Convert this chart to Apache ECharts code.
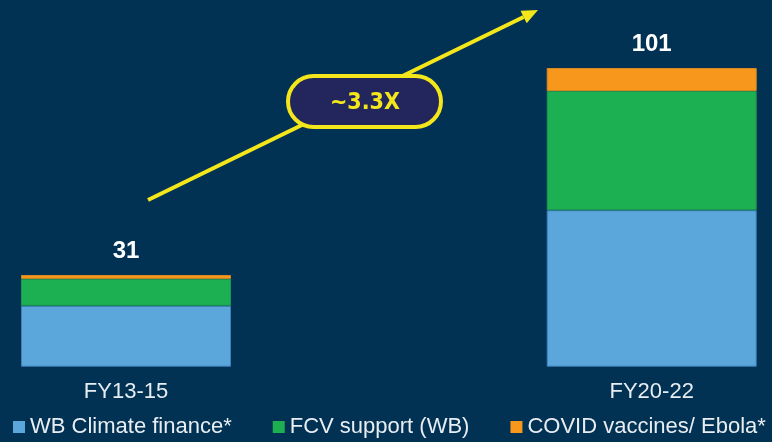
<!DOCTYPE html>
<html>
<head>
<meta charset="utf-8">
<script src="https://cdn.jsdelivr.net/npm/echarts@6/dist/echarts.min.js"></script>
<style>
  html, body { margin: 0; padding: 0; background: #013153; }
  #main { width: 772px; height: 442px; }
</style>
</head>
<body>
<div id="main"></div>
<script>
  // data (USD bn)
  var categories = ['FY13-15', 'FY20-22'];
  var climate = [20.6, 52.9];
  var fcv = [9.1, 40.3];
  var covid = [1.3, 7.8];
  var totals = [31, 101];
  var growthLabel = '~3.3X';

  var myChart = echarts.init(document.getElementById('main'));

  // arrow geometry (annotation only)
  var ax1 = 148, ay1 = 200, ax2 = 538, ay2 = 10;
  var ang = Math.atan2(ay2 - ay1, ax2 - ax1);
  var headLen = 16, headHalf = 7;
  var bx = ax2 - headLen * Math.cos(ang), by = ay2 - headLen * Math.sin(ang);
  var px = -Math.sin(ang), py = Math.cos(ang);

  var legendText = { color: '#e8edf2', fontSize: 22, fontFamily: 'Liberation Sans, Arial, sans-serif' };

  myChart.setOption({
    backgroundColor: '#013153',
    animation: false,
    grid: {
      left: 126,
      right: 120.3,
      top: 68,
      bottom: 75.3
    },
    legend: {
      left: 13,
      top: 416,
      padding: 0,
      itemWidth: 12,
      itemHeight: 12,
      itemGap: 41,
      icon: 'rect',
      itemStyle: { borderWidth: 0 },
      textStyle: legendText,
      data: ['WB Climate finance*', 'FCV support (WB)', 'COVID vaccines/ Ebola*']
    },
    xAxis: {
      type: 'category',
      data: categories,
      boundaryGap: false,
      axisLine: { show: false },
      axisTick: { show: false },
      axisLabel: {
        margin: 14,
        color: '#e8edf2',
        fontSize: 22,
        fontFamily: 'Liberation Sans, Arial, sans-serif'
      }
    },
    yAxis: {
      type: 'value',
      min: 0,
      max: 101,
      show: false,
      splitLine: { show: false }
    },
    series: [
      {
        name: 'WB Climate finance*',
        type: 'bar',
        stack: 'total',
        barWidth: 210,
        clip: false,
        data: climate,
        itemStyle: { color: '#5ba7dc', borderColor: '#3d7fb8', borderWidth: 1 }
      },
      {
        name: 'FCV support (WB)',
        type: 'bar',
        stack: 'total',
        barWidth: 210,
        clip: false,
        data: fcv,
        itemStyle: { color: '#1db053', borderColor: '#1b9650', borderWidth: 1 }
      },
      {
        name: 'COVID vaccines/ Ebola*',
        type: 'bar',
        stack: 'total',
        barWidth: 210,
        clip: false,
        data: covid,
        itemStyle: { color: '#f7981d', borderColor: '#d88a22', borderWidth: 1 },
        label: {
          show: true,
          position: 'top',
          distance: 12,
          color: '#ffffff',
          fontSize: 24,
          fontWeight: 'bold',
          fontFamily: 'Liberation Sans, Arial, sans-serif',
          formatter: function (p) { return totals[p.dataIndex]; }
        }
      }
    ],
    graphic: [
      {
        type: 'line',
        z: 10,
        shape: { x1: ax1, y1: ay1, x2: bx, y2: by },
        style: { stroke: '#f3e61b', lineWidth: 4 }
      },
      {
        type: 'polygon',
        z: 10,
        shape: { points: [[ax2, ay2], [bx + px * headHalf, by + py * headHalf], [bx - px * headHalf, by - py * headHalf]] },
        style: { fill: '#f3e61b' }
      },
      {
        type: 'rect',
        z: 11,
        shape: { x: 288, y: 76, width: 153, height: 51, r: 25.5 },
        style: { fill: '#22265c', stroke: '#f3e61b', lineWidth: 4 }
      },
      {
        type: 'text',
        z: 12,
        x: 365,
        y: 103,
        style: {
          text: growthLabel,
          fill: '#f3e61b',
          font: 'bold 23px "DejaVu Sans Condensed", "DejaVu Sans", sans-serif',
          align: 'center',
          verticalAlign: 'middle'
        }
      }
    ]
  });
</script>
</body>
</html>
